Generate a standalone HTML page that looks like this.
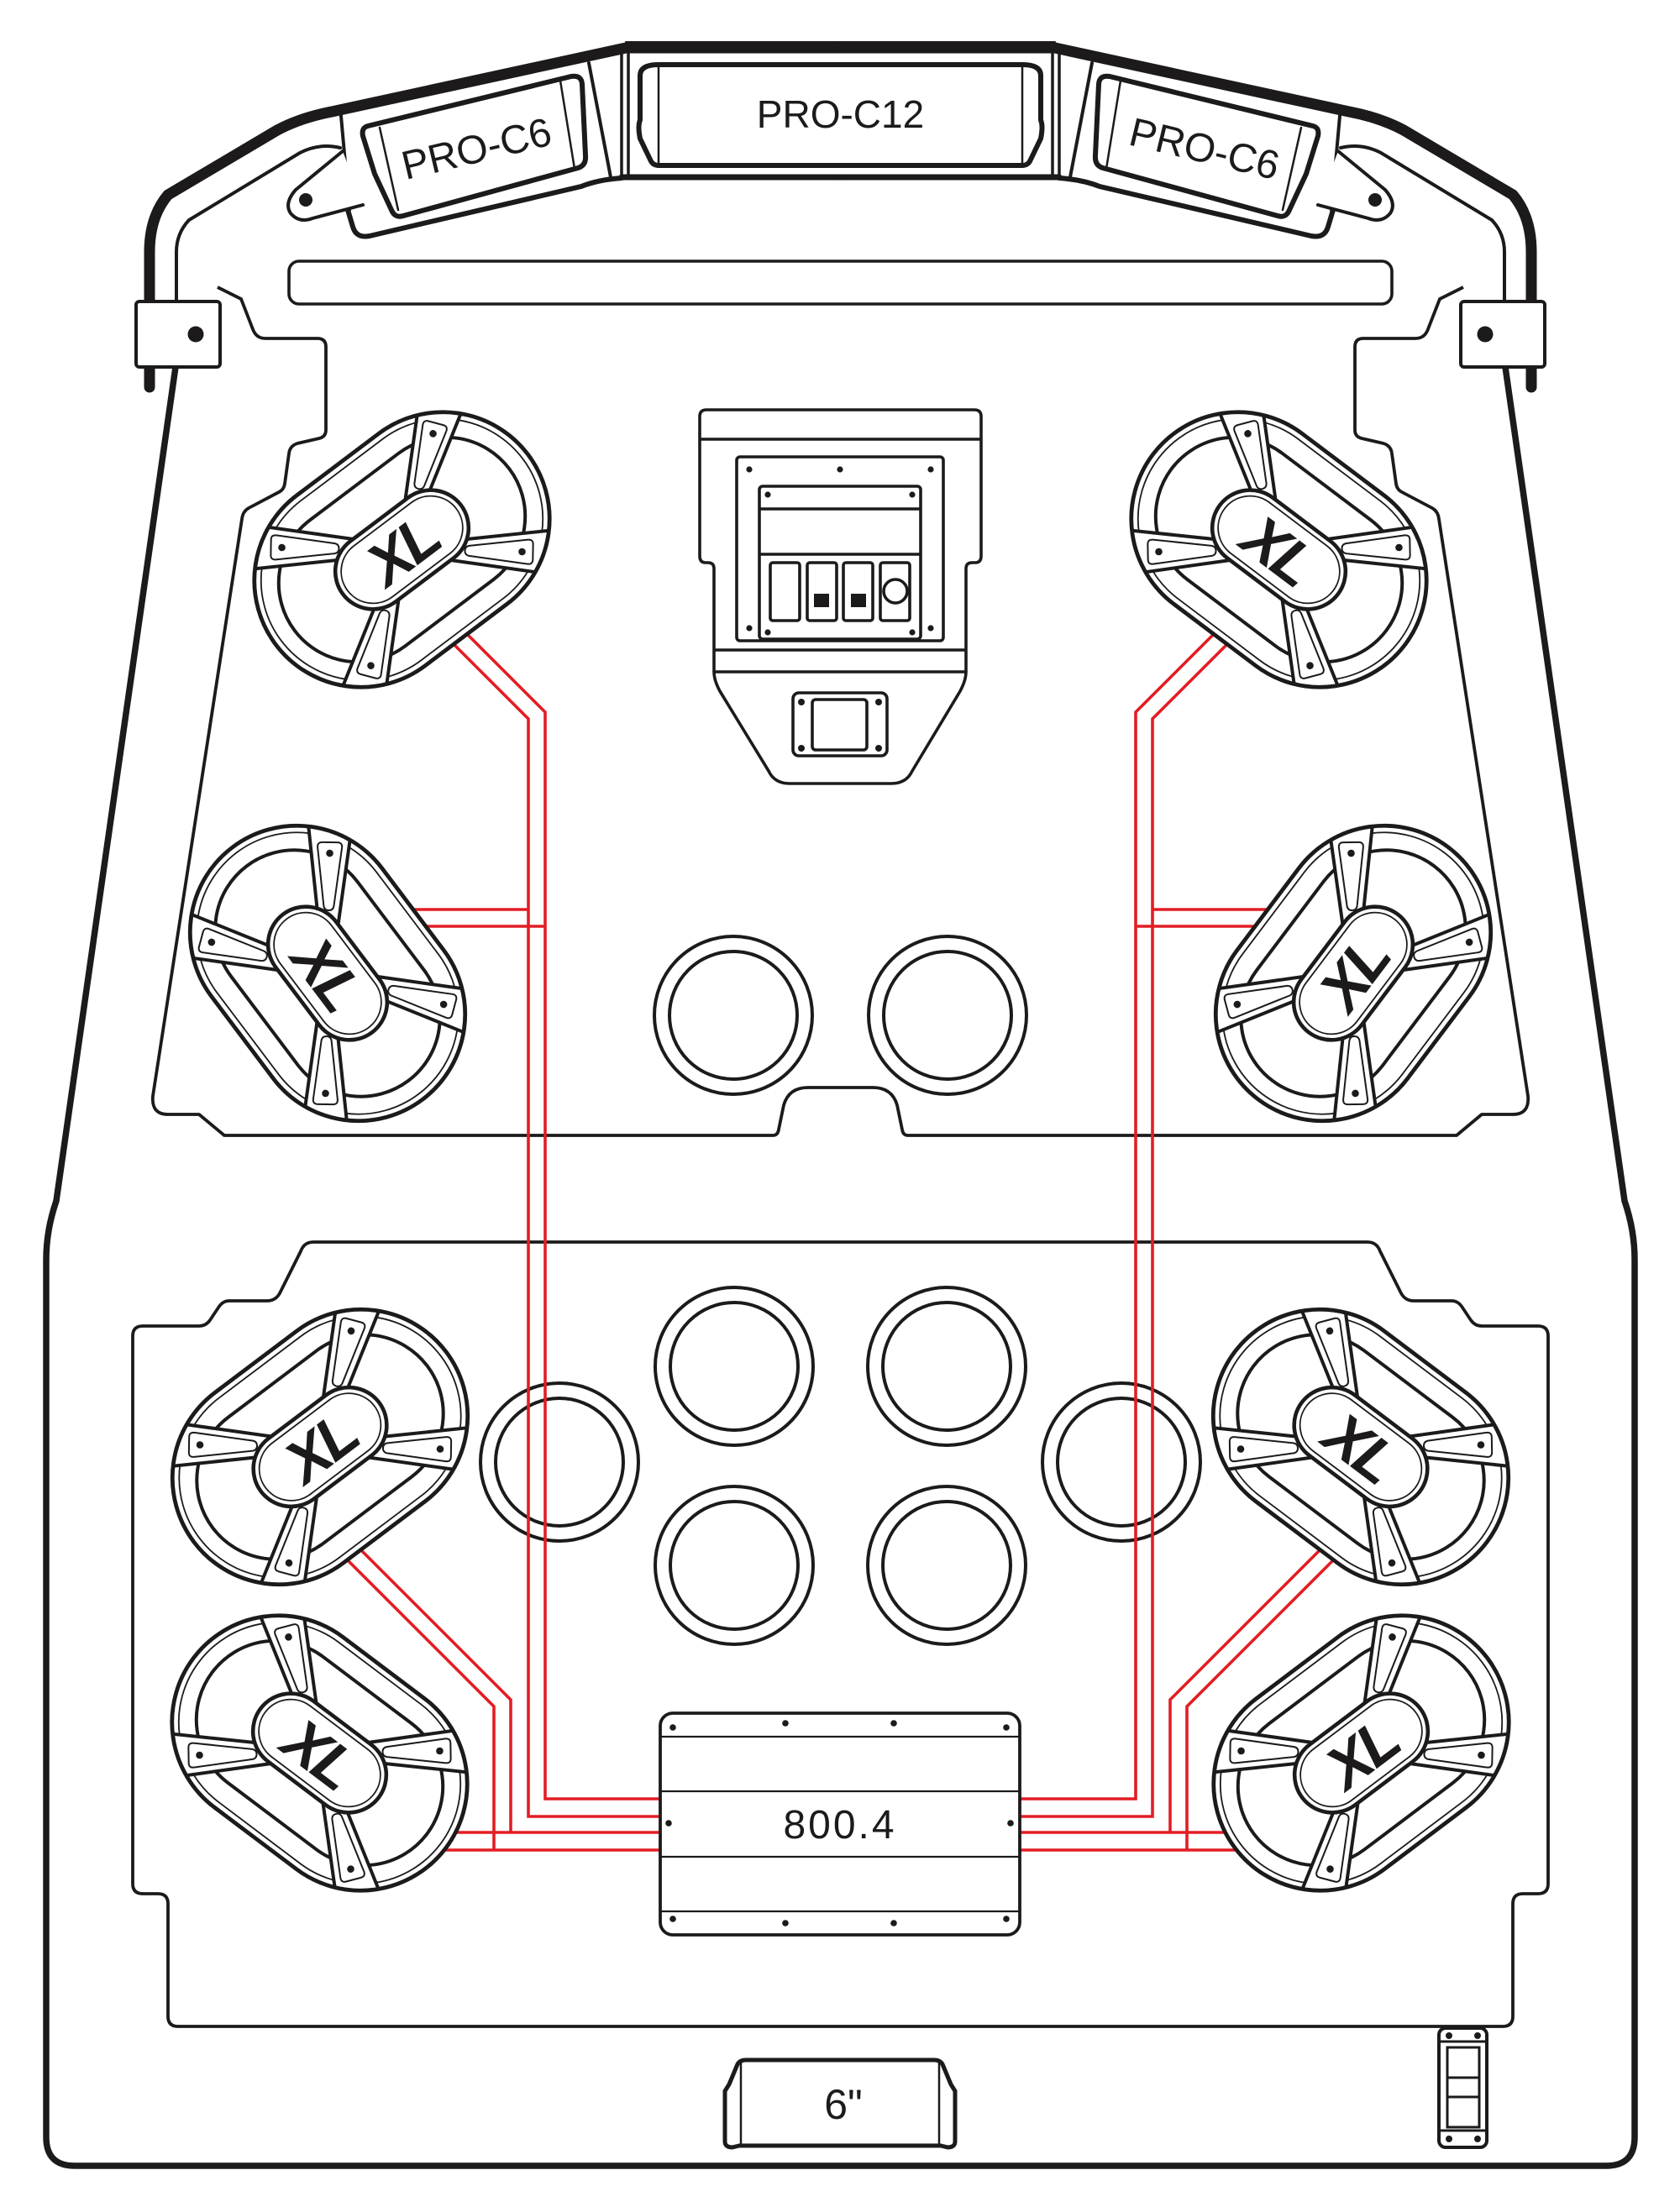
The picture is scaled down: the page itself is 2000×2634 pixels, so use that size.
<!DOCTYPE html>
<html><head><meta charset="utf-8"><style>
html,body{margin:0;padding:0;background:#fff;}
svg{display:block;}
text{font-family:"Liberation Sans",Arial,sans-serif;fill:#1c1a1b;}
</style></head><body>
<svg xmlns="http://www.w3.org/2000/svg" xmlns:xlink="http://www.w3.org/1999/xlink" width="2000" height="2634" viewBox="0 0 2000 2634">
<defs>
  <clipPath id="spkclip"><rect x="-186" y="-125" width="372" height="250" rx="125"/></clipPath>
  <g id="spoke">
    <polygon points="58,-11.5 205,-29.5 205,29.5 58,11.5" fill="#fff" stroke="#1c1a1b" stroke-width="4" stroke-linejoin="round"/>
    <path d="M80,-6 L150,-14.5 Q156,-15 156,-9 L156,9 Q156,15 150,14.5 L80,6 Q75,5 75,0 Q75,-5 80,-6Z" fill="none" stroke="#1c1a1b" stroke-width="2"/>
    <circle cx="143" cy="0" r="3.8" fill="#1c1a1b"/>
  </g>
  <g id="spk" stroke="#1c1a1b">
    <rect x="-188" y="-127" width="376" height="254" rx="127" fill="#fff" stroke="none"/>
    <rect x="-180" y="-119" width="360" height="238" rx="119" fill="none" stroke-width="1.8"/>
    <rect x="-160" y="-94" width="320" height="188" rx="94" fill="none" stroke-width="4"/>
    <g clip-path="url(#spkclip)">
      <use href="#spoke" transform="rotate(38)"/>
      <use href="#spoke" transform="rotate(142)"/>
      <use href="#spoke" transform="rotate(218)"/>
      <use href="#spoke" transform="rotate(322)"/>
    </g>
    <rect x="-188" y="-127" width="376" height="254" rx="127" fill="none" stroke-width="4.8"/>
    <rect x="-88" y="-45" width="176" height="90" rx="45" fill="#fff" stroke-width="4.6"/>
    <rect x="-81" y="-38" width="162" height="76" rx="38" fill="none" stroke-width="1.8"/>
  </g>
</defs>

<!-- Body outline -->
<path d="M209,437 L67,1430 Q55,1465 55,1500 L55,2545 Q55,2579 89,2579 L1912,2579 Q1946,2579 1946,2545 L1946,1500 Q1946,1465 1934,1430 L1792,437" fill="none" stroke="#1c1a1b" stroke-width="7.5" stroke-linejoin="round"/>

<!-- Top left housing (mirrored for right) -->
<g id="topL" fill="none" stroke="#1c1a1b" stroke-linejoin="round" stroke-linecap="round">
  <path d="M210,360 L210,300 Q210,278 225,262 L357,182 Q380,170 405,176" stroke-width="4"/>
  <path d="M178,461 L178,300 Q178,258 200,232 L330,155 Q358,140 395,133 L745,57 L1000.5,57" stroke-width="13"/>
  <line x1="745" y1="50" x2="1000.5" y2="50" stroke-width="2"/>
  <path d="M406,138 L416,250" stroke-width="4"/>
  <path d="M701,75 L727,211" stroke-width="4"/>
  <path d="M740,64 L740,211 M748,64 L748,211" stroke-width="3.5"/>
  <path d="M740,211 L1000.5,211" stroke-width="7"/>
  <path d="M740,212 Q712,214 692,222 L440,281 Q424,284 420,270 L414,250" stroke-width="6"/>
  <path d="M408,180 L352,226 Q338,242 346,254 Q356,266 372,260 L432,244" stroke-width="4" fill="#fff"/>
  <circle cx="364" cy="238" r="8" fill="#1c1a1b" stroke="none"/>
  <path d="M438,150 L680,91 Q692,89 693,100 L697,185 Q698,197 688,200 L480,257 Q470,260 466,250 L446,207 L432,162 Q430,152 438,150Z" stroke-width="6" fill="#fff"/>
  <path d="M452,152 L474,250" stroke-width="2.5"/>
  <path d="M667,96 L684,201" stroke-width="2.5"/>
  <rect x="162" y="359" width="100" height="78" rx="4" fill="#fff" stroke-width="4"/>
  <circle cx="233" cy="398" r="9.5" fill="#1c1a1b" stroke="none"/>
</g>
<use href="#topL" transform="matrix(-1 0 0 1 2001 0)"/>

<!-- C12 enclosure -->
<path d="M784,77 L1217,77 Q1239,77 1239,90 L1239,143 Q1242,150 1239,165 L1226,192 Q1223,197 1217,197 L784,197 Q778,197 775,192 L762,165 Q759,150 762,143 L762,90 Q762,77 784,77Z" fill="#fff" stroke="#1c1a1b" stroke-width="6" stroke-linejoin="round"/>
<path d="M784,80 L784,194 M1217,80 L1217,194" stroke="#1c1a1b" stroke-width="2.5"/>
<text x="1000.5" y="152" font-size="46" text-anchor="middle">PRO-C12</text>
<text transform="translate(571,193) rotate(-13.5)" font-size="48" text-anchor="middle">PRO-C6</text>
<text transform="translate(1430,193) rotate(13.5)" font-size="48" text-anchor="middle">PRO-C6</text>

<!-- Long bar -->
<rect x="344" y="311" width="1313" height="51" rx="12" fill="none" stroke="#1c1a1b" stroke-width="3.6"/>

<!-- Upper panel -->
<path d="M259,342 L287,356 L301,392 Q305,403 316,403 L378,403 Q388,403 388,413 L388,512 Q388,520 380,522 L354,528 Q345,531 344,540 L339,576 Q338,583 332,586 L296,605 Q289,609 288,618 L182,1305 Q180,1327 200,1327 L237,1327 L267,1352 L920,1352 Q926,1352 927,1345 L933,1316 Q939,1295 962,1295 L1039,1295 Q1062,1295 1068,1316 L1074,1345 Q1075,1352 1081,1352 L1734,1352 L1764,1327 L1801,1327 Q1821,1327 1819,1305 L1713,618 Q1712,609 1705,605 L1669,586 Q1663,583 1662,576 L1657,540 Q1656,531 1647,528 L1621,522 Q1613,520 1613,512 L1613,413 Q1613,403 1623,403 L1685,403 Q1696,403 1700,392 L1714,356 L1742,342" fill="none" stroke="#1c1a1b" stroke-width="3.8" stroke-linejoin="round"/>

<!-- Lower panel -->
<path d="M373,1479 Q362,1479 358,1490 L333,1540 Q328,1549 318,1549 L273,1549 Q265,1549 260,1557 L250,1572 Q245,1579 237,1579 L170,1579 Q158,1579 158,1591 L158,2243 Q158,2255 170,2255 L188,2255 Q200,2255 200,2267 L200,2401 Q200,2413 212,2413 L1789,2413 Q1801,2413 1801,2401 L1801,2267 Q1801,2255 1813,2255 L1831,2255 Q1843,2255 1843,2243 L1843,1591 Q1843,1579 1831,1579 L1764,1579 Q1756,1579 1751,1572 L1741,1557 Q1736,1549 1728,1549 L1683,1549 Q1673,1549 1668,1540 L1643,1490 Q1639,1479 1628,1479 Z" fill="none" stroke="#1c1a1b" stroke-width="3.8" stroke-linejoin="round"/>

<!-- Cup holders -->
<g fill="none" stroke="#1c1a1b" stroke-width="4">
  <circle cx="873" cy="1209" r="94"/><circle cx="873" cy="1209" r="76"/>
  <circle cx="1128" cy="1209" r="94"/><circle cx="1128" cy="1209" r="76"/>
  <circle cx="874" cy="1627" r="94"/><circle cx="874" cy="1627" r="76"/>
  <circle cx="1127" cy="1627" r="94"/><circle cx="1127" cy="1627" r="76"/>
  <circle cx="874" cy="1864" r="94"/><circle cx="874" cy="1864" r="76"/>
  <circle cx="1127" cy="1864" r="94"/><circle cx="1127" cy="1864" r="76"/>
  <circle cx="666" cy="1741" r="94"/><circle cx="666" cy="1741" r="76"/>
  <circle cx="1335" cy="1741" r="94"/><circle cx="1335" cy="1741" r="76"/>
</g>

<!-- Control panel -->
<g fill="none" stroke="#1c1a1b" stroke-width="3.6" stroke-linejoin="round">
  <path d="M850,800 L850,677 Q850,670 843,670 L840,670 Q833,670 833,662 L833,496 Q833,488 841,488 L1160,488 Q1168,488 1168,496 L1168,662 Q1168,670 1161,670 L1157,670 Q1150,670 1150,677 L1150,800"/>
  <path d="M833,523 L1168,523"/>
  <path d="M850,774 L1150,774"/>
  <path d="M850,800 Q850,810 857,823 L915,918 Q922,933 940,933 L1061,933 Q1079,933 1086,918 L1143,823 Q1150,810 1150,800 Z"/>
  <rect x="877" y="544" width="246" height="219" rx="4"/>
  <rect x="904" y="579" width="192" height="182" rx="4"/>
  <path d="M904,606 L1096,606 M904,660 L1096,660"/>
  <rect x="917" y="670" width="35" height="69" rx="3"/>
  <rect x="961" y="670" width="35" height="69" rx="3"/>
  <rect x="1004" y="670" width="35" height="69" rx="3"/>
  <rect x="1048" y="670" width="35" height="69" rx="3"/>
  <circle cx="1066" cy="704" r="14"/>
  <rect x="944" y="825" width="112" height="75" rx="7"/>
  <rect x="967" y="833" width="65" height="60" rx="4"/>
</g>
<g fill="#1c1a1b">
  <rect x="969" y="707" width="18" height="16"/><rect x="1013" y="707" width="18" height="16"/>
  <circle cx="892" cy="559" r="3.6"/><circle cx="1000" cy="559" r="3.6"/><circle cx="1108" cy="559" r="3.6"/>
  <circle cx="892" cy="748" r="3.6"/><circle cx="1108" cy="748" r="3.6"/>
  <circle cx="914" cy="589" r="3.6"/><circle cx="1086" cy="589" r="3.6"/>
  <circle cx="914" cy="753" r="3.6"/><circle cx="1086" cy="753" r="3.6"/>
  <circle cx="954" cy="836" r="4"/><circle cx="1046" cy="836" r="4"/>
  <circle cx="954" cy="891" r="4"/><circle cx="1046" cy="891" r="4"/>
</g>

<!-- Red wires -->
<g id="wiresL" fill="none" stroke="#e31d24" stroke-width="3.6">
  <path d="M540,767 L629,856 L629,2163 L786,2163"/>
  <path d="M556,755 L649,848 L649,2142 L786,2142"/>
  <path d="M493,1083 L629,1083"/>
  <path d="M508,1103 L649,1103"/>
  <path d="M413,1857 L588,2032 L588,2203"/>
  <path d="M429,1845 L608,2024 L608,2182"/>
  <path d="M540,2182 L786,2182"/>
  <path d="M527,2203 L786,2203"/>
</g>
<use href="#wiresL" transform="matrix(-1 0 0 1 2001 0)"/>

<!-- Speakers -->
<use href="#spk" transform="translate(478.5,654.5) rotate(-37)"/>
<use href="#spk" transform="translate(1522.5,654.5) rotate(37)"/>
<use href="#spk" transform="translate(390,1159) rotate(53)"/>
<use href="#spk" transform="translate(1611,1159) rotate(-53)"/>
<use href="#spk" transform="translate(381,1723) rotate(-37)"/>
<use href="#spk" transform="translate(1620,1723) rotate(37)"/>
<use href="#spk" transform="translate(380.5,2087.5) rotate(37)"/>
<use href="#spk" transform="translate(1620.5,2087.5) rotate(-37)"/>
<g font-size="72" font-weight="900" font-style="italic" text-anchor="middle" letter-spacing="-4">
  <text transform="translate(478.5,654.5) rotate(-37)" x="0" y="26">XL</text>
  <text transform="translate(1522.5,654.5) rotate(37)" x="0" y="26">XL</text>
  <text transform="translate(390,1159) rotate(53)" x="0" y="26">XL</text>
  <text transform="translate(1611,1159) rotate(-53)" x="0" y="26">XL</text>
  <text transform="translate(381,1723) rotate(-37)" x="0" y="26">XL</text>
  <text transform="translate(1620,1723) rotate(37)" x="0" y="26">XL</text>
  <text transform="translate(380.5,2087.5) rotate(37)" x="0" y="26">XL</text>
  <text transform="translate(1620.5,2087.5) rotate(-37)" x="0" y="26">XL</text>
</g>

<!-- Amplifier -->
<rect x="786" y="2040" width="428" height="264" rx="15" fill="#fff" stroke="#1c1a1b" stroke-width="3.8"/>
<path d="M786,2068 L1214,2068 M786,2133 L1214,2133 M786,2211 L1214,2211 M786,2276 L1214,2276" stroke="#1c1a1b" stroke-width="2.2"/>
<g fill="#1c1a1b">
  <circle cx="801" cy="2057" r="3.8"/><circle cx="935" cy="2052" r="3.8"/><circle cx="1064" cy="2052" r="3.8"/><circle cx="1198" cy="2057" r="3.8"/>
  <circle cx="801" cy="2285" r="3.8"/><circle cx="935" cy="2290" r="3.8"/><circle cx="1064" cy="2290" r="3.8"/><circle cx="1198" cy="2285" r="3.8"/>
  <circle cx="796" cy="2171" r="3.8"/><circle cx="1203" cy="2171" r="3.8"/>
</g>
<text x="1000" y="2189" font-size="48" text-anchor="middle" letter-spacing="3">800.4</text>

<!-- 6" box -->
<path d="M863,2490 L868,2482 L878,2458 Q881,2453 888,2453 L1112,2453 Q1119,2453 1122,2458 L1132,2482 L1137,2490 L1137,2550 Q1137,2557 1128,2557 L1120,2555 L880,2555 L872,2557 Q863,2557 863,2550 Z" fill="#fff" stroke="#1c1a1b" stroke-width="5" stroke-linejoin="round"/>
<path d="M882,2456 L882,2553 M1118,2456 L1118,2553" stroke="#1c1a1b" stroke-width="2.5"/>
<text x="1004" y="2523" font-size="50" text-anchor="middle">6"</text>

<!-- Small switch bottom right -->
<g fill="none" stroke="#1c1a1b">
  <rect x="1713" y="2415" width="57" height="142" rx="8" fill="#fff" stroke-width="4"/>
  <path d="M1713,2431 L1770,2431 M1713,2537 L1770,2537" stroke-width="3"/>
  <rect x="1723" y="2438" width="38" height="95" stroke-width="3"/>
  <path d="M1723,2474 L1761,2474 M1723,2497 L1761,2497" stroke-width="3"/>
</g>
<g fill="#1c1a1b">
  <circle cx="1725" cy="2424" r="4"/><circle cx="1759" cy="2424" r="4"/>
  <circle cx="1725" cy="2547" r="4"/><circle cx="1759" cy="2547" r="4"/>
</g>
</svg>
</body></html>
